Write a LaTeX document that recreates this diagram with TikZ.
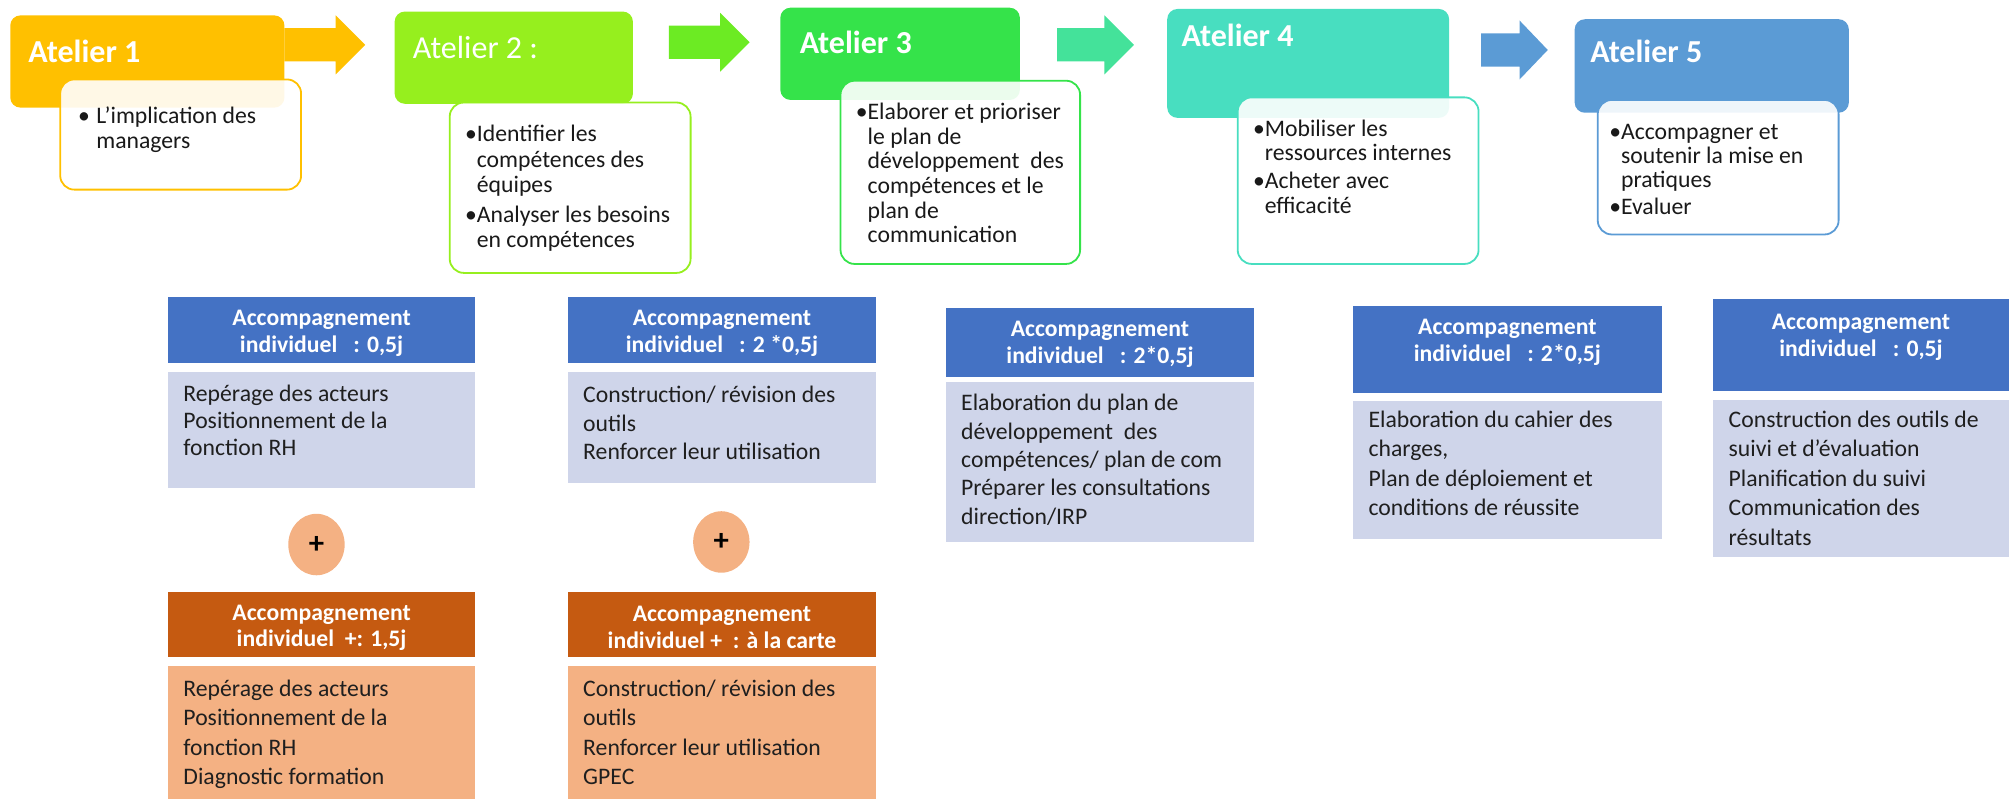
\documentclass[tikz,border=0pt]{standalone}
\usepackage{fontspec}
\setmainfont{Carlito}
\usetikzlibrary{shapes.geometric}
\definecolor{cA}{HTML}{FFC000}
\definecolor{cB}{HTML}{96EF1E}
\definecolor{cBa}{HTML}{6CEB23}
\definecolor{cC}{HTML}{35E34A}
\definecolor{cCa}{HTML}{44E29A}
\definecolor{cD}{HTML}{48DEC0}
\definecolor{cE}{HTML}{5B9BD5}
\definecolor{bhead}{HTML}{4472C4}
\definecolor{bbody}{HTML}{CFD5EA}
\definecolor{ohead}{HTML}{C55A11}
\definecolor{obody}{HTML}{F4B183}
\newcommand\topst{\rule{0pt}{14pt}}
\newcommand\bul{\llap{•}}
\begin{document}
\begin{tikzpicture}[x=1pt,y=-1pt,
  hdr/.style={rectangle, rounded corners=8pt, inner sep=0pt, draw=none},
  sub/.style={rectangle, rounded corners=11pt, inner sep=0pt, line width=1.4pt, fill=white, fill opacity=0.9},
  title/.style={anchor=west, inner sep=0pt, text=white, font=\fontsize{25}{28}\selectfont\bfseries},
  subtxt/.style={anchor=north west, inner sep=0pt, align=left, text=black!90, yshift=-3pt},
  flat/.style={rectangle, inner sep=0pt, draw=none},
  htxt/.style={inner sep=0pt, align=center, text=white, font=\fontsize{18.5}{21}\selectfont\bfseries},
  btxt/.style={anchor=north west, inner sep=0pt, align=left, text=black!88, yshift=-3pt},
  plus/.style={ellipse, fill=obody, minimum width=44pt, minimum height=48pt, inner sep=0pt, font=\fontsize{24}{24}\selectfont\bfseries}
]
\useasboundingbox (0,0) rectangle (1568,623);

% ---------- top row ----------
\node[hdr, fill=cA, minimum width=214pt, minimum height=72pt] (a1) at (115,48) {};
\node[title] (a1t) at (22,40) {Atelier 1};
\node[sub, draw=cA, minimum width=188pt, minimum height=86pt] (s1) at (141,105) {};
\node[subtxt, font=\fontsize{18.5}{19}\selectfont] (s1t) at (75,79.5) {\topst\llap{•\hspace{5pt}}L’implication des\\ managers};

\fill[cA] (222,22) -- (262,22) -- (262,12) -- (285,35) -- (262,58) -- (262,48) -- (222,48) -- cycle;

\node[hdr, fill=cB, minimum width=186pt, minimum height=72pt] (a2) at (401,45) {};
\node[title, font=\fontsize{25}{28}\selectfont] (a2t) at (322,37) {Atelier 2 :};
\node[sub, draw=cB, minimum width=188pt, minimum height=133pt] (s2) at (445,146.5) {};
\node[subtxt, font=\fontsize{18.5}{20}\selectfont] (s2t) at (372,93.3) {\topst\bul Identifier les\\ compétences des\\ équipes\\[3pt] \bul Analyser les besoins\\ en compétences};

\fill[cBa] (522,20) -- (562,20) -- (562,10) -- (585,33) -- (562,56) -- (562,46) -- (522,46) -- cycle;

\node[hdr, fill=cC, minimum width=187pt, minimum height=72pt] (a3) at (702.5,42) {};
\node[title] (a3t) at (624,33) {Atelier 3};
\node[sub, draw=cC, minimum width=187pt, minimum height=143pt] (s3) at (749.5,134.5) {};
\node[subtxt, font=\fontsize{18.5}{19.2}\selectfont] (s3t) at (677,76.3) {\topst\bul Elaborer et prioriser\\ le plan de\\ développement\ \ des\\ compétences et le\\ plan de\\ communication};

\fill[cCa] (825,22) -- (862,22) -- (862,12) -- (885,35) -- (862,58) -- (862,48) -- (825,48) -- cycle;

\node[hdr, fill=cD, minimum width=220pt, minimum height=85pt] (a4) at (1021,49.5) {};
\node[title] (a4t) at (922,28) {Atelier 4};
\node[sub, draw=cD, minimum width=188pt, minimum height=130pt] (s4) at (1060,141) {};
\node[subtxt, font=\fontsize{18.5}{19}\selectfont] (s4t) at (987,89.3) {\topst\bul Mobiliser les\\ ressources internes\\[3pt] \bul Acheter avec\\ efficacité};

\fill[cE] (1156,26) -- (1186,26) -- (1186,16) -- (1208,39) -- (1186,62) -- (1186,52) -- (1156,52) -- cycle;

\node[hdr, fill=cE, minimum width=214pt, minimum height=73pt] (a5) at (1336,51.5) {};
\node[title] (a5t) at (1241,40) {Atelier 5};
\node[sub, draw=cE, minimum width=188pt, minimum height=105pt] (s5) at (1341,130.5) {};
\node[subtxt, font=\fontsize{18.5}{19}\selectfont] (s5t) at (1265,91.3) {\topst\bul Accompagner et\\ soutenir la mise en\\ pratiques\\[2pt] \bul Evaluer};

% ---------- bottom ----------
% column 1
\node[flat, fill=bhead, minimum width=240pt, minimum height=51pt] (b1h) at (251,257.5) {};
\node[htxt] (b1ht) at (251,260.5) {Accompagnement\\ individuel\ \ \ : 0,5j};
\node[flat, fill=bbody, minimum width=240pt, minimum height=91pt] (b1b) at (251,335.5) {};
\node[btxt, font=\fontsize{18.5}{21}\selectfont] (b1bt) at (143,296.3) {\topst Repérage des acteurs\\ Positionnement de la\\ fonction RH};
\node[plus] (p1) at (247,425) {+};
\node[flat, fill=ohead, minimum width=240pt, minimum height=51pt] (c1h) at (251,487.5) {};
\node[htxt] (c1ht) at (251,490) {Accompagnement\\ individuel\ \ +: 1,5j};
\node[flat, fill=obody, minimum width=240pt, minimum height=106pt] (c1b) at (251,573) {};
\node[btxt, font=\fontsize{18.5}{23}\selectfont] (c1bt) at (143,526.3) {\topst Repérage des acteurs\\ Positionnement de la\\ fonction RH\\ Diagnostic formation};

% column 2
\node[flat, fill=bhead, minimum width=241pt, minimum height=51pt] (b2h) at (563.5,257.5) {};
\node[htxt] (b2ht) at (563.5,260.5) {Accompagnement\\ individuel\ \ \ : 2 *0,5j};
\node[flat, fill=bbody, minimum width=241pt, minimum height=87pt] (b2b) at (563.5,333.5) {};
\node[btxt, font=\fontsize{18.5}{22}\selectfont] (b2bt) at (455,297.3) {\topst Construction/ révision des\\ outils\\ Renforcer leur utilisation};
\node[plus] (p2) at (563,423) {+};
\node[flat, fill=ohead, minimum width=241pt, minimum height=51pt] (c2h) at (563.5,487.5) {};
\node[htxt] (c2ht) at (563.5,490) {Accompagnement\\ individuel +\ \ : à la carte};
\node[flat, fill=obody, minimum width=241pt, minimum height=106pt] (c2b) at (563.5,573) {};
\node[btxt, font=\fontsize{18.5}{23}\selectfont] (c2bt) at (455,526.3) {\topst Construction/ révision des\\ outils\\ Renforcer leur utilisation\\ GPEC};

% column 3
\node[flat, fill=bhead, minimum width=241pt, minimum height=54pt] (b3h) at (858.5,267) {};
\node[htxt] (b3ht) at (858.5,268.5) {Accompagnement\\ individuel\ \ \ : 2*0,5j};
\node[flat, fill=bbody, minimum width=241pt, minimum height=125pt] (b3b) at (858.5,360.5) {};
\node[btxt, font=\fontsize{18.5}{22.2}\selectfont] (b3bt) at (750,303.3) {\topst Elaboration du plan de\\ développement\ \ des\\ compétences/ plan de com\\ Préparer les consultations\\ direction/IRP};

% column 4
\node[flat, fill=bhead, minimum width=241pt, minimum height=68pt] (b4h) at (1176.5,273) {};
\node[htxt] (b4ht) at (1176.5,267.5) {Accompagnement\\ individuel\ \ \ : 2*0,5j};
\node[flat, fill=bbody, minimum width=241pt, minimum height=108pt] (b4b) at (1176.5,367) {};
\node[btxt, font=\fontsize{18.5}{23}\selectfont] (b4bt) at (1068,316.3) {\topst Elaboration du cahier des\\ charges,\\ Plan de déploiement et\\ conditions de réussite};

% column 5
\node[flat, fill=bhead, minimum width=231pt, minimum height=72pt] (b5h) at (1452.5,269) {};
\node[htxt] (b5ht) at (1452.5,263) {Accompagnement\\ individuel\ \ \ : 0,5j};
\node[flat, fill=bbody, minimum width=231pt, minimum height=123pt] (b5b) at (1452.5,373.5) {};
\node[btxt, font=\fontsize{18.5}{23}\selectfont] (b5bt) at (1349,316.3) {\topst Construction des outils de\\ suivi et d’évaluation\\ Planification du suivi\\ Communication des\\ résultats};
\end{tikzpicture}
\end{document}
